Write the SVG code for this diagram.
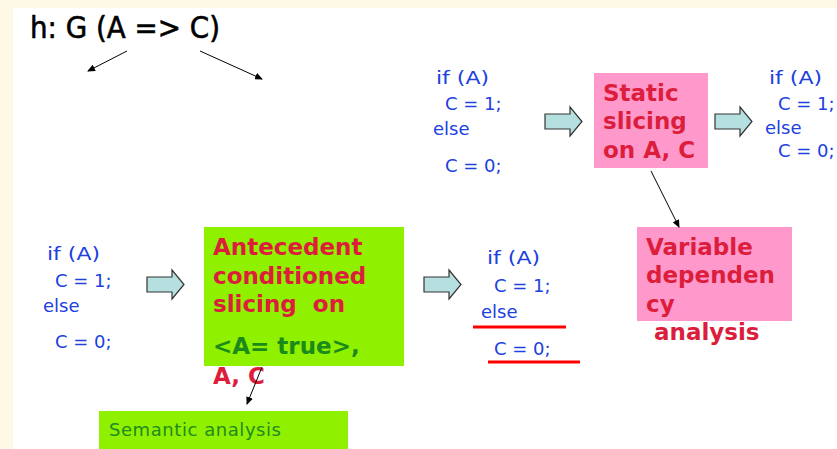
<svg xmlns="http://www.w3.org/2000/svg" width="837" height="449" viewBox="0 0 837 449">
<style>
.code{font-family:"DejaVu Sans",sans-serif;font-size:18px;fill:#2040e0}
.bold{font-family:"DejaVu Sans",sans-serif;font-weight:bold;font-size:23px;fill:#dc1e3c}
.ln{stroke:#000;stroke-width:1;fill:none;marker-end:url(#ah)}
.blk{fill:#b6e0e0;stroke:#333;stroke-width:1.2}
</style>
<defs>
<marker id="ah" markerWidth="8" markerHeight="7" refX="7" refY="3.5" orient="auto" markerUnits="userSpaceOnUse">
<path d="M0,0 L8,3.5 L0,7 Z" fill="#000"/>
</marker>
<path id="barrow" d="M0,7 H25 V0 L37,14.5 L25,29 V22 H0 Z"/>
</defs>
<rect width="837" height="449" fill="#fef8e6"/>
<rect x="13" y="8" width="824" height="441" fill="#ffffff"/>

<g id="title">
<text x="30" y="38" font-family="DejaVu Sans,sans-serif" font-size="30" fill="#000" stroke="#000" stroke-width="0.6" textLength="190" lengthAdjust="spacingAndGlyphs">h: G (A =&gt; C)</text>
</g>

<g id="code-top-left">
<text x="436" y="84" class="code" textLength="53" lengthAdjust="spacingAndGlyphs">if (A)</text>
<text x="445" y="110" class="code">C = 1;</text>
<text x="433" y="135" class="code">else</text>
<text x="445" y="172" class="code">C = 0;</text>
</g>

<g id="static-slicing">
<rect x="594" y="73" width="114" height="95" fill="#ff99cc"/>
<text x="603" y="101" class="bold">Static</text>
<text x="603" y="129" class="bold">slicing</text>
<text x="603" y="158" class="bold">on A, C</text>
</g>

<g id="code-top-right">
<text x="769" y="84" class="code" textLength="53" lengthAdjust="spacingAndGlyphs">if (A)</text>
<text x="778" y="110" class="code">C = 1;</text>
<text x="765" y="134" class="code">else</text>
<text x="778" y="157" class="code">C = 0;</text>
</g>

<g id="code-bottom-left">
<text x="47" y="260" class="code" textLength="53" lengthAdjust="spacingAndGlyphs">if (A)</text>
<text x="55" y="287" class="code">C = 1;</text>
<text x="43" y="312" class="code">else</text>
<text x="55" y="348" class="code">C = 0;</text>
</g>

<g id="antecedent-slicing">
<rect x="204" y="227" width="200" height="139" fill="#8ff000"/>
<text x="213" y="255" class="bold">Antecedent</text>
<text x="213" y="284" class="bold">conditioned</text>
<text x="213" y="312" class="bold" xml:space="preserve">slicing  on</text>
<text x="213" y="354" class="bold" style="fill:#1a8a1a">&lt;A= true&gt;,</text>
<text x="213" y="384" class="bold">A, C</text>
</g>

<g id="code-bottom-mid">
<text x="487" y="264" class="code" textLength="53" lengthAdjust="spacingAndGlyphs">if (A)</text>
<text x="494" y="292" class="code">C = 1;</text>
<text x="481" y="318" class="code">else</text>
<line x1="473" y1="327" x2="566" y2="327" stroke="#ff0000" stroke-width="3"/>
<text x="494" y="355" class="code">C = 0;</text>
<line x1="488" y1="362" x2="580" y2="362" stroke="#ff0000" stroke-width="3"/>
</g>

<g id="variable-dependency">
<rect x="637" y="227" width="155" height="94" fill="#ff99cc"/>
<text x="646" y="255" class="bold">Variable</text>
<text x="646" y="283" class="bold">dependen</text>
<text x="646" y="312" class="bold">cy</text>
<text x="654" y="340" class="bold">analysis</text>
</g>

<g id="semantic-analysis">
<rect x="99" y="411" width="249" height="38" fill="#8ff000"/>
<text x="109" y="436" font-family="DejaVu Sans,sans-serif" font-size="18" fill="#228a22" textLength="172">Semantic analysis</text>
</g>

<g id="connectors">
<line class="ln" x1="127" y1="51" x2="88" y2="71"/>
<line class="ln" x1="200" y1="51" x2="262" y2="79"/>
<line class="ln" x1="651" y1="171" x2="679" y2="227"/>
<line class="ln" x1="262" y1="367" x2="247" y2="404"/>
<use href="#barrow" class="blk" transform="translate(545,107)"/>
<use href="#barrow" class="blk" transform="translate(715,107)"/>
<use href="#barrow" class="blk" transform="translate(147,270)"/>
<use href="#barrow" class="blk" transform="translate(424,270)"/>
</g>
</svg>
